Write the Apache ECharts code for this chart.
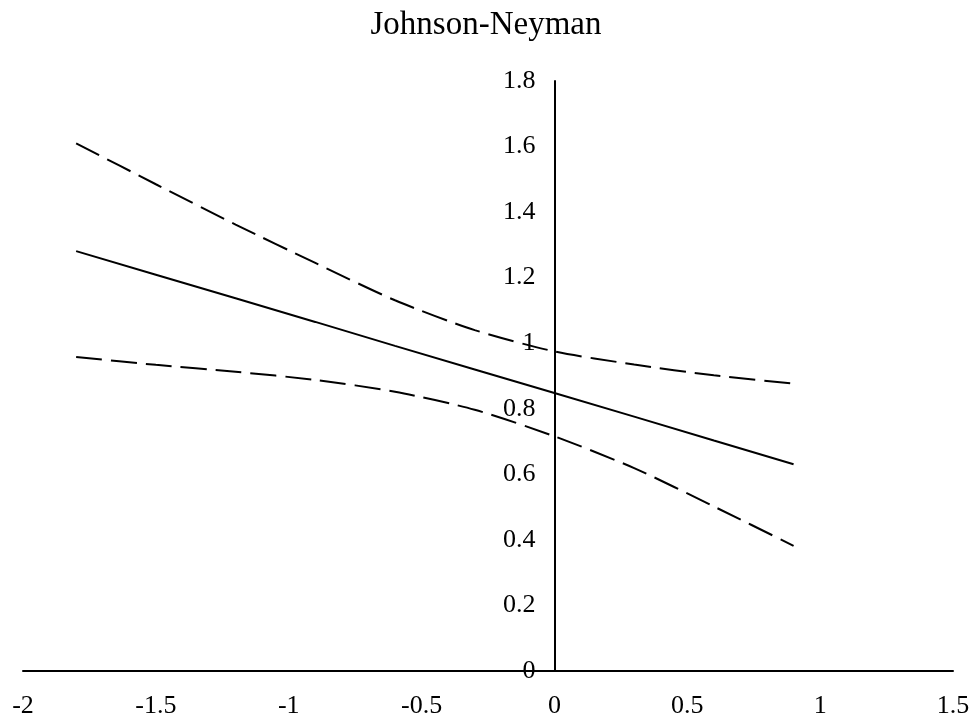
<!DOCTYPE html>
<html>
<head>
<meta charset="utf-8">
<script src="https://cdn.jsdelivr.net/npm/echarts@6/dist/echarts.min.js"></script>
<style>
html,body{margin:0;padding:0;background:#fff;}
#chart{width:972px;height:719px;}
</style>
</head>
<body>
<div id="chart"></div>
<script>
var titleText = 'Johnson-Neyman';
var xTicks = [-2, -1.5, -1, -0.5, 0, 0.5, 1, 1.5];
var yTicks = [0, 0.2, 0.4, 0.6, 0.8, 1, 1.2, 1.4, 1.6, 1.8];
var moderator = [-1.8, -1.5, -1.2, -0.9, -0.6, -0.3, 0, 0.3, 0.6, 0.9];
var effect = [1.281, 1.209, 1.137, 1.065, 0.992, 0.920, 0.848, 0.776, 0.703, 0.631];
var upperCI = [1.610, 1.485, 1.362, 1.245, 1.131, 1.040, 0.975, 0.935, 0.902, 0.877];
var lowerCI = [0.958, 0.934, 0.913, 0.888, 0.852, 0.797, 0.716, 0.619, 0.502, 0.382];

function pairs(ys){ return moderator.map(function(x,i){ return [x, ys[i]]; }); }

var font = '"Liberation Serif", "Times New Roman", serif';
var W = 972, gridLeft = 23, gridRight = 19;
var xMin = xTicks[0], xMax = xTicks[xTicks.length-1];
var gridW = W - gridLeft - gridRight;
var yAxisOffset = -gridW * (0 - xMin) / (xMax - xMin);

var chart = echarts.init(document.getElementById('chart'), null, {renderer:'canvas'});
chart.setOption({
  backgroundColor: '#ffffff',
  animation: false,
  title: {
    text: titleText,
    left: 'center',
    top: 4,
    textStyle: {fontFamily: font, fontSize: 33, fontWeight: 'normal', color: '#000'}
  },
  grid: {left: gridLeft, right: gridRight, top: 81, bottom: 48, containLabel: false, outerBoundsMode: 'none'},
  xAxis: {
    type: 'value',
    min: xMin,
    max: xMax,
    interval: xTicks[1]-xTicks[0],
    axisLine: {show: true, onZero: true, lineStyle: {color: '#000', width: 2}},
    axisTick: {show: false},
    splitLine: {show: false},
    axisLabel: {fontFamily: font, fontSize: 26, color: '#000', margin: 22}
  },
  yAxis: {
    type: 'value',
    position: 'left',
    offset: yAxisOffset,
    min: yTicks[0],
    max: yTicks[yTicks.length-1],
    interval: yTicks[1]-yTicks[0],
    axisLine: {show: true, onZero: false, lineStyle: {color: '#000', width: 2}},
    axisTick: {show: false},
    splitLine: {show: false},
    axisLabel: {fontFamily: font, fontSize: 26, color: '#000', margin: 19,
      formatter: function(v){ return String(Math.round(v*10)/10); }}
  },
  series: [
    {type:'line', name:'Upper', data: pairs(upperCI), showSymbol:false, smooth:0.25,
     lineStyle:{color:'#000', width:2, type:[26,9]}},
    {type:'line', name:'Effect', data: pairs(effect), showSymbol:false,
     lineStyle:{color:'#000', width:2, type:'solid'}},
    {type:'line', name:'Lower', data: pairs(lowerCI), showSymbol:false, smooth:0.25,
     lineStyle:{color:'#000', width:2, type:[26,9]}}
  ]
});
</script>
</body>
</html>
